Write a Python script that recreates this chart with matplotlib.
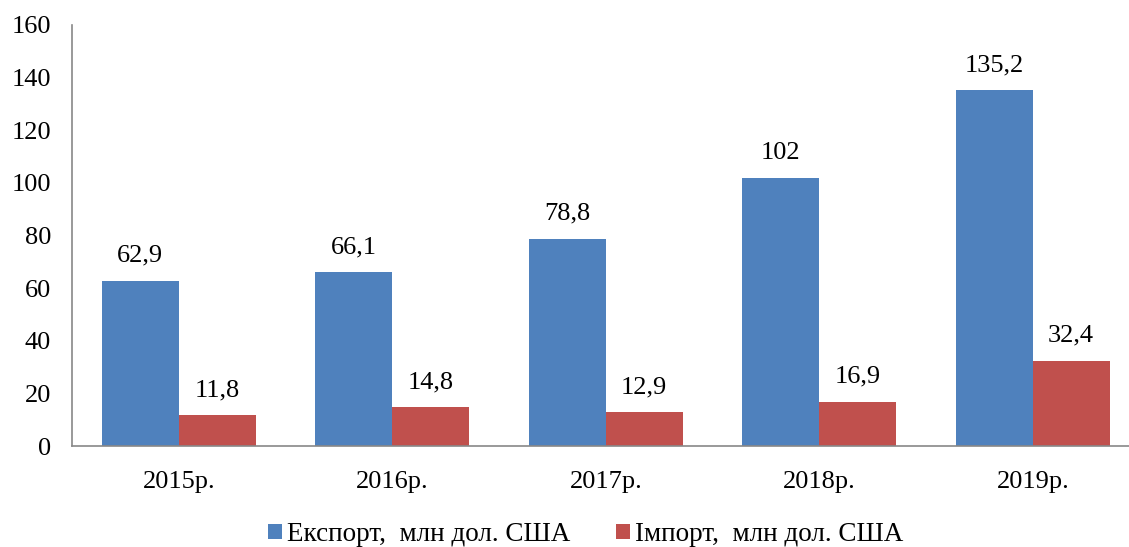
import numpy as np
from matplotlib import pyplot as plt

plt.rcParams['font.family'] = ['Liberation Serif', 'DejaVu Serif']
plt.rcParams['font.size'] = 19

years = ['2015р.', '2016р.', '2017р.', '2018р.', '2019р.']
export_vals = [62.9, 66.1, 78.8, 102, 135.2]
import_vals = [11.8, 14.8, 12.9, 16.9, 32.4]
export_labels = ['62,9', '66,1', '78,8', '102', '135,2']
import_labels = ['11,8', '14,8', '12,9', '16,9', '32,4']

fig = plt.figure(figsize=(11.29, 5.47), dpi=100)
ax = fig.add_axes([0.0638, 0.1846, 0.9455, 0.7697])

x = np.arange(len(years))
w = 0.36
b1 = ax.bar(x - w / 2, export_vals, w, color='#4F81BD', label='Експорт,  млн дол. США')
b2 = ax.bar(x + w / 2, import_vals, w, color='#C0504D', label='Імпорт,  млн дол. США')

ax.bar_label(b1, labels=export_labels, padding=10, fontsize=19)
ax.bar_label(b2, labels=import_labels, padding=10, fontsize=19)

ax.set_xlim(-0.5, 4.5)
ax.set_ylim(0, 160)
ax.set_yticks(range(0, 161, 20))
ax.set_xticks(x)
ax.set_xticklabels(years)
ax.tick_params(axis='both', length=0, labelsize=19)
ax.tick_params(axis='x', pad=18)
ax.tick_params(axis='y', pad=15)

for s in ['top', 'right']:
    ax.spines[s].set_visible(False)
for s in ['left', 'bottom']:
    ax.spines[s].set_color('#888888')
    ax.spines[s].set_linewidth(1.2)

fig.legend(loc='lower center', bbox_to_anchor=(0.519, -0.045), ncol=2, frameon=False,
           handlelength=0.5, handleheight=0.5, handletextpad=0.2, columnspacing=1.7,
           fontsize=19.5)

fig.savefig('out.png', dpi=100)
